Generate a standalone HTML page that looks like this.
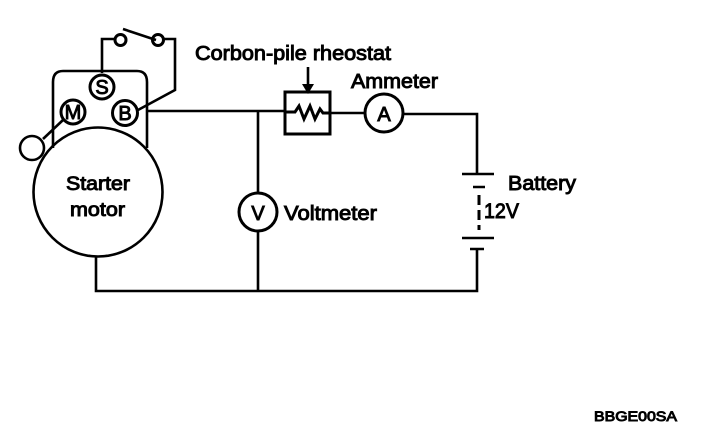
<!DOCTYPE html>
<html><head><meta charset="utf-8">
<style>
html,body{margin:0;padding:0;background:#fff;width:704px;height:436px;overflow:hidden}
svg{display:block}
text{font-family:"Liberation Sans",sans-serif;fill:#000;stroke:#000;stroke-width:.95px}
</style></head><body>
<svg width="704" height="436" viewBox="0 0 704 436" xmlns="http://www.w3.org/2000/svg">
<rect width="704" height="436" fill="#fff"/>
<g fill="none" stroke="#000" stroke-width="2.6">
<!-- housing -->
<path d="M53 148V82Q53 71 63 71H137Q147 71 147 82V148"/>
<!-- motor -->
<circle cx="98" cy="192" r="64.500"/>
<circle cx="32" cy="148" r="12"/>
<!-- terminals -->
<circle cx="102" cy="87" r="12" stroke-width="3"/>
<circle cx="73" cy="112" r="12" stroke-width="3"/>
<circle cx="125" cy="113" r="12.500" stroke-width="3"/>
<!-- switch -->
<path d="M102 73V39H114"/>
<circle cx="120.500" cy="40" r="5.500" stroke-width="3"/>
<circle cx="158" cy="40" r="5.500" stroke-width="3"/>
<path d="M123 29L156 40"/>
<path d="M163 39H175V90L138 110"/>
<path d="M63 120L43 139"/>
<!-- main wires -->
<path d="M147 111H285"/>
<path d="M258 111V193M258 231V291"/>
<path d="M330 113H365"/>
<path d="M403 114H477V173"/>
<path d="M477 249V291H96V256"/>
<!-- rheostat -->
<rect x="285" y="92" width="45" height="42" stroke-width="3"/>
<path d="M285 112H295L299 106L304 119L310 106L315 119L320 109L323 113H330" stroke-width="3"/>
<path d="M308 67V88"/>
<!-- meters -->
<circle cx="384" cy="113" r="19" stroke-width="3"/>
<circle cx="258" cy="212" r="19" stroke-width="3"/>
<!-- battery -->
<path d="M462 174H494M473 187H485M462 238H494M470 249H484"/>
<path d="M479 195V230" stroke-dasharray="10 5" stroke-width="3"/>
</g>
<path d="M302 84H314L308 94Z" fill="#000"/>
<g text-anchor="middle">
<text x="102" y="94" font-size="20">S</text>
<text x="73" y="119" font-size="20">M</text>
<text x="125" y="120" font-size="20">B</text>
<text x="384" y="121" font-size="20">A</text>
<text x="258" y="220" font-size="20">V</text>
</g>
<text x="66" y="190" font-size="19" textLength="64" lengthAdjust="spacingAndGlyphs">Starter</text>
<text x="70" y="216" font-size="19" textLength="55" lengthAdjust="spacingAndGlyphs">motor</text>
<text x="195" y="60" font-size="20" textLength="196" lengthAdjust="spacingAndGlyphs">Corbon-pile rheostat</text>
<text x="351" y="88" font-size="20" textLength="87" lengthAdjust="spacingAndGlyphs">Ammeter</text>
<text x="284" y="220" font-size="20" textLength="93" lengthAdjust="spacingAndGlyphs">Voltmeter</text>
<text x="508" y="190" font-size="20" textLength="68" lengthAdjust="spacingAndGlyphs">Battery</text>
<text x="484" y="218" font-size="21" textLength="35" lengthAdjust="spacingAndGlyphs">12V</text>
<text x="594" y="421" font-size="14" textLength="83" lengthAdjust="spacingAndGlyphs">BBGE00SA</text>
</svg>
</body></html>
